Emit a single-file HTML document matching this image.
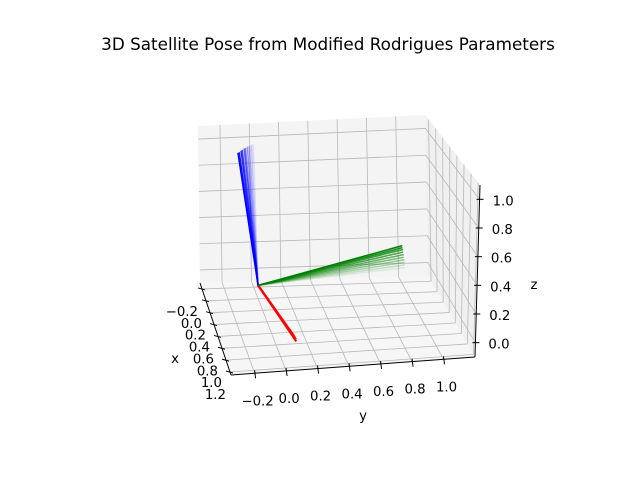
<!DOCTYPE html>
<html><head><meta charset="utf-8"><style>
body{margin:0;background:#fff;}
svg text{font-family:"DejaVu Sans","Liberation Sans",sans-serif;}
</style></head><body>
<svg id="c" width="640" height="480" viewBox="0 0 640 480">
<rect width="640" height="480" fill="#fff"/>
<text x="328" y="50" text-anchor="middle" font-size="16.8">3D Satellite Pose from Modified Rodrigues Parameters</text>
</svg>
<script>
const xTicks=[-0.2,0.0,0.2,0.4,0.6,0.8,1.0,1.2];
const yTicks=[-0.2,0.0,0.2,0.4,0.6,0.8,1.0];
const zTicks=[0.0,0.2,0.4,0.6,0.8,1.0];
const xLabels=["\u22120.2","0.0","0.2","0.4","0.6","0.8","1.0","1.2"];
const yLabels=["\u22120.2","0.0","0.2","0.4","0.6","0.8","1.0"];
const zLabels=["0.0","0.2","0.4","0.6","0.8","1.0"];
// body-axis endpoints per frame (origin at 0,0,0), oldest first
const frameAlpha=[0.1,0.2,0.3,0.4,0.5,0.6,0.7,0.8,0.9,1.0];
const redX=[0.95,0.955,0.96,0.965,0.97,0.975,0.98,0.985,0.99,1.0];
const redY=[0.07,0.075,0.08,0.085,0.09,0.09,0.095,0.095,0.1,0.1];
const redZ=[0.05,0.045,0.04,0.035,0.03,0.025,0.02,0.015,0.01,0.0];
const greenX=[-0.02,-0.018,-0.015,-0.013,-0.01,-0.008,-0.005,-0.003,0.0,0.0];
const greenY=[0.99,0.99,0.985,0.985,0.98,0.98,0.975,0.975,0.97,0.97];
const greenZ=[0.08,0.1,0.12,0.14,0.16,0.18,0.2,0.22,0.235,0.25];
const blueX=[-0.15,-0.14,-0.13,-0.12,-0.11,-0.1,-0.09,-0.075,-0.06,-0.05];
const blueY=[0.0,-0.015,-0.03,-0.045,-0.06,-0.07,-0.085,-0.095,-0.11,-0.12];
const blueZ=[1.0,1.0,0.995,0.995,0.99,0.99,0.985,0.985,0.98,0.98];

const X0=-0.3,X1=1.25,Y0=-0.35,Y1=1.2,Z0=-0.1,Z1=1.1;
const cA=[200,283],cB=[231,375],cC=[475,357],cD=[428,276];
const tA=[198,126],tB=[233,205],tC=[480,185],tD=[425,115];
function bil(a,b,c,d,u,v,k){return a[k]*(1-u)*(1-v)+b[k]*u*(1-v)+c[k]*u*v+d[k]*(1-u)*v;}
function P(x,y,z){const u=(x-X0)/(X1-X0),v=(y-Y0)/(Y1-Y0),w=(z-Z0)/(Z1-Z0);
 const r=[];for(let k=0;k<2;k++){r.push(bil(cA,cB,cC,cD,u,v,k)*(1-w)+bil(tA,tB,tC,tD,u,v,k)*w);}return r;}
const svg=document.getElementById('c');const NS="http://www.w3.org/2000/svg";
function el(t,a){const e=document.createElementNS(NS,t);for(const k in a)e.setAttribute(k,a[k]);svg.appendChild(e);return e;}
function poly(pts,fill,name){const e=el('polygon',{points:pts.map(p=>p.join(',')).join(' '),fill:fill});

}
function line(p,q,col,w,name,op){const e=el('line',{x1:p[0],y1:p[1],x2:q[0],y2:q[1],stroke:col,'stroke-width':w,'stroke-opacity':op==null?1:op,'stroke-linecap':'butt'});

return e;}
function text(x,y,s,anchor,name){const e=el('text',{x:x,y:y,'font-size':13.3,'text-anchor':anchor});e.textContent=s;

}
poly([P(X0,Y0,Z0),P(X1,Y0,Z0),P(X1,Y1,Z0),P(X0,Y1,Z0)],'#f6f6f6','floor-pane');
poly([P(X0,Y0,Z0),P(X0,Y1,Z0),P(X0,Y1,Z1),P(X0,Y0,Z1)],'#f4f4f4','back-pane');
poly([P(X0,Y1,Z0),P(X1,Y1,Z0),P(X1,Y1,Z1),P(X0,Y1,Z1)],'#f0f0f0','side-pane');
const gc='#b8b8b8';
xTicks.forEach(t=>{line(P(t,Y0,Z0),P(t,Y1,Z0),gc,0.8,'x-gridline-floor');line(P(t,Y1,Z0),P(t,Y1,Z1),gc,0.8,'x-gridline-side');});
yTicks.forEach(t=>{line(P(X1,t,Z0),P(X0,t,Z0),gc,0.8,'y-gridline-floor');line(P(X0,t,Z0),P(X0,t,Z1),gc,0.8,'y-gridline-back');});
zTicks.forEach(t=>{line(P(X0,Y0,t),P(X0,Y1,t),gc,0.8,'z-gridline-back');line(P(X0,Y1,t),P(X1,Y1,t),gc,0.8,'z-gridline-side');});
line(P(X0,Y0,Z0),P(X1,Y0,Z0),'#000',1,'x-axis-line');
line(P(X1,Y0,Z0),P(X1,Y1,Z0),'#000',1,'y-axis-line');
line(P(X1,Y1,Z0),P(X1,Y1,Z1),'#000',1,'z-axis-line');
xTicks.forEach((t,i)=>{const p=P(t,Y0,Z0);line([p[0]-4,p[1]-1],[p[0]+3,p[1]+1],'#000',1,'x-tick');text(p[0]-4,p[1]+27,xLabels[i],'end','x-tick-label');});
yTicks.forEach((t,i)=>{const p=P(X1,t,Z0);line([p[0],p[1]-3],[p[0]+1,p[1]+5],'#000',1,'y-tick');text(p[0]+3,p[1]+32,yLabels[i],'middle','y-tick-label');});
zTicks.forEach((t,i)=>{const p=P(X1,Y1,t);line([p[0]-3,p[1]],[p[0]+4,p[1]],'#000',1,'z-tick');text(p[0]+13,p[1]+6,zLabels[i],'start','z-tick-label');});
text(175,363,'x','middle','x-axis-title');
text(363,420,'y','middle','y-axis-title');
text(534,289,'z','middle','z-axis-title');
const o=P(0,0,0);
frameAlpha.forEach((a,i)=>{
 line(o,P(redX[i],redY[i],redZ[i]),'#ff0000',2,'body-x-axis-frame',a);
 line(o,P(greenX[i],greenY[i],greenZ[i]),'#008000',1.5,'body-y-axis-frame',a);
 line(o,P(blueX[i],blueY[i],blueZ[i]),'#0000ff',1.5,'body-z-axis-frame',a);
});
</script>
</body></html>
